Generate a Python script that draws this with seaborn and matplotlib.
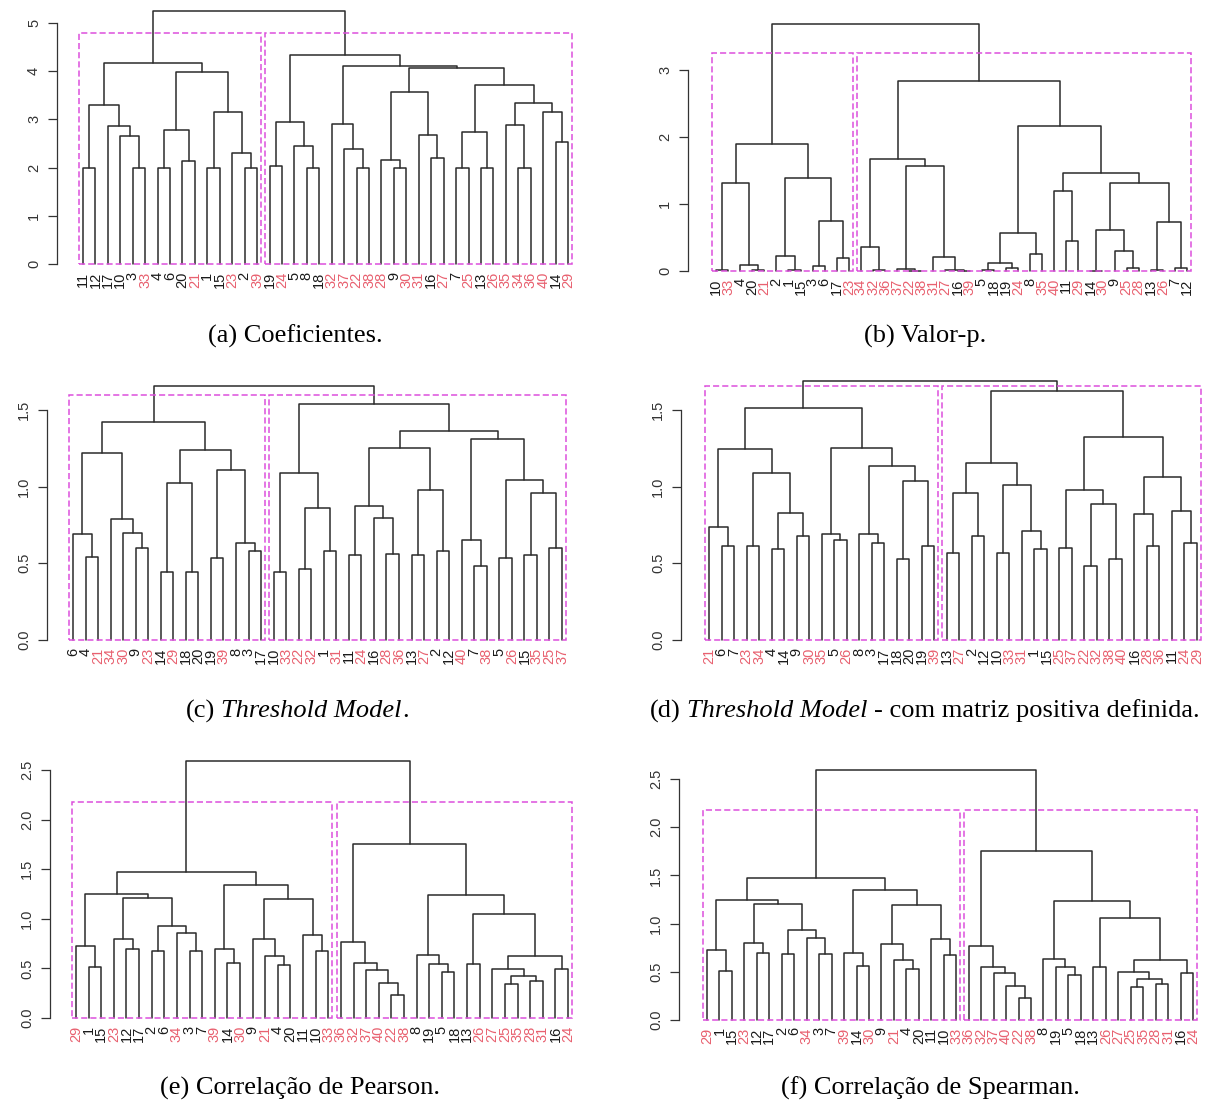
import matplotlib
matplotlib.use("Agg")

import matplotlib.pyplot as plt
from matplotlib.patches import Rectangle
import pandas as pd
import seaborn as sns

# ---- data: leaf order (left to right) and merge trees [height, left, right] ----
labels_a = [11, 12, 17, 10, 3, 33, 4, 6, 20, 21, 1, 15, 23, 2, 39,
            19, 24, 5, 8, 18, 32, 37, 22, 38, 28, 9, 30, 31, 16, 27,
            7, 25, 13, 26, 35, 34, 36, 40, 14, 29]
tree_a = [5.25,
          [4.17,
           [3.29, [2.0, 11, 12], [2.87, 17, [2.66, 10, [2.0, 3, 33]]]],
           [3.99, [2.78, [2.0, 4, 6], [2.14, 20, 21]],
            [3.16, [2.0, 1, 15], [2.31, 23, [2.0, 2, 39]]]]],
          [4.34,
           [2.95, [2.04, 19, 24], [2.45, 5, [2.0, 8, 18]]],
           [4.10,
            [2.90, 32, [2.39, 37, [2.0, 22, 38]]],
            [4.07,
             [3.56, [2.16, 28, [2.0, 9, 30]], [2.68, 31, [2.19, 16, 27]]],
             [3.71, [2.74, [2.0, 7, 25], [2.0, 13, 26]],
              [3.35, [2.89, 35, [2.0, 34, 36]], [3.16, 40, [2.54, 14, 29]]]]]]]]

labels_b = [10, 33, 4, 20, 21, 2, 1, 15, 3, 6, 17, 23,
            34, 32, 36, 37, 22, 38, 31, 27, 16, 39, 5, 18, 19, 24, 8, 35,
            40, 11, 29, 14, 30, 9, 25, 28, 13, 26, 7, 12]
tree_b = [3.68,
          [1.89,
           [1.31, [0.02, 10, 33], [0.09, 4, [0.02, 20, 21]]],
           [1.39, [0.22, 2, [0.01, 1, 15]], [0.75, [0.07, 3, 6], [0.20, 17, 23]]]],
          [2.83,
           [1.67, [0.36, 34, [0.01, 32, 36]],
            [1.56, [0.03, 37, [0.005, 22, 38]], [0.21, 31, [0.02, 27, [0.005, 16, 39]]]]],
           [2.17,
            [0.57, [0.12, [0.01, 5, 18], [0.04, 19, 24]], [0.25, 8, 35]],
            [1.47, [1.19, 40, [0.45, 11, 29]],
             [1.32, [0.61, [0.005, 14, 30], [0.30, 9, [0.05, 25, 28]]],
              [0.73, [0.01, 13, 26], [0.05, 7, 12]]]]]]]

labels_c = [6, 4, 21, 34, 30, 9, 23, 14, 29, 18, 20, 19, 39, 8, 3, 17,
            10, 33, 22, 32, 1, 31, 11, 24, 16, 28, 36, 13, 27, 2, 12,
            40, 7, 38, 5, 26, 15, 35, 25, 37]
tree_c = [1.657,
          [1.42,
           [1.22, [0.69, 6, [0.54, 4, 21]], [0.79, 34, [0.70, 30, [0.60, 9, 23]]]],
           [1.24, [1.02, [0.44, 14, 29], [0.44, 18, 20]],
            [1.11, [0.535, 19, 39], [0.63, 8, [0.58, 3, 17]]]]],
          [1.54,
           [1.085, [0.44, 10, 33], [0.86, [0.465, 22, 32], [0.58, 1, 31]]],
           [1.363,
            [1.254, [0.87, [0.556, 11, 24], [0.796, 16, [0.563, 28, 36]]],
             [0.974, [0.556, 13, 27], [0.58, 2, 12]]],
            [1.31, [0.65, 40, [0.485, 7, 38]],
             [1.04, [0.535, 5, 26], [0.96, [0.556, 15, 35], [0.60, 25, 37]]]]]]]

labels_d = [21, 6, 7, 23, 34, 4, 14, 9, 30, 35, 5, 26, 8, 3, 17, 18, 20, 19, 39,
            13, 27, 2, 12, 10, 33, 31, 1, 15, 25, 37, 22, 32, 38, 40,
            16, 28, 36, 11, 24, 29]
tree_d = [1.687,
          [1.51,
           [1.243, [0.735, 21, [0.61, 6, 7]],
            [1.09, [0.61, 23, 34], [0.83, [0.595, 4, 14], [0.68, 9, 30]]]],
           [1.254, [0.69, 35, [0.65, 5, 26]],
            [1.133, [0.69, 8, [0.635, 3, 17]], [1.035, [0.527, 18, 20], [0.61, 19, 39]]]]],
          [1.62,
           [1.155, [0.96, [0.57, 13, 27], [0.68, 2, 12]],
            [1.01, [0.565, 10, 33], [0.713, 31, [0.595, 1, 15]]]],
           [1.32,
            [0.98, [0.60, 25, 37], [0.886, [0.48, 22, 32], [0.527, 38, 40]]],
            [1.06, [0.82, 16, [0.61, 28, 36]], [0.838, 11, [0.635, 24, 29]]]]]]

# Pearson and Spearman give the same tree in the source figure
labels_e = [29, 1, 15, 23, 12, 17, 2, 6, 34, 3, 7, 39, 14, 30, 9, 21, 4, 20, 11, 10, 33,
            36, 32, 37, 40, 22, 38, 8, 19, 5, 18, 13, 26, 27, 25, 35, 28, 31, 16, 24]
tree_e = [2.592,
          [1.474,
           [1.248, [0.73, 29, [0.51, 1, 15]],
            [1.207, [0.80, 23, [0.70, 12, 17]],
             [0.93, [0.68, 2, 6], [0.855, 34, [0.68, 3, 7]]]]],
           [1.344, [0.70, 39, [0.557, 14, 30]],
            [1.197, [0.793, 9, [0.626, 21, [0.53, 4, 20]]], [0.838, 11, [0.674, 10, 33]]]]],
          [1.758,
           [0.763, 36, [0.55, 32, [0.486, 37, [0.349, 40, [0.233, 22, 38]]]]],
           [1.235, [0.636, 8, [0.547, 19, [0.462, 5, 18]]],
            [1.053, [0.547, 13, 26],
             [0.622, [0.496, 27, [0.424, [0.345, 25, 35], [0.369, 28, 31]]], [0.492, 16, 24]]]]]]

yticks_a = [0, 1, 2, 3, 4, 5]
yticks_b = [0, 1, 2, 3]
yticks_cd = [0.0, 0.5, 1.0, 1.5]
yticks_ef = [0.0, 0.5, 1.0, 1.5, 2.0, 2.5]

# ---- style ----
W, H = 1210, 1104
sns.set_style("white")
plt.rcParams["font.family"] = ["Liberation Sans", "DejaVu Sans"]
LINE = "#2b2b2b"
RECT = "#dc4fdc"
RED = "#e8606f"

fig = plt.figure(figsize=(W / 100, H / 100), dpi=100)


def walk(node, pos, rows, seg):
    if not isinstance(node, list):
        return pos[node], 0.0
    h, left, right = node
    xl, hl = walk(left, pos, rows, seg)
    xr, hr = walk(right, pos, rows, seg)
    k = len(seg)
    seg.append(k)
    for i, (x, y) in enumerate([(xl, hl), (xl, h), (xr, h), (xr, hr)]):
        rows.append({"seg": k, "i": i, "x": x, "y": y})
    return (xl + xr) / 2, h


def n_leaves(node):
    if not isinstance(node, list):
        return 1
    return n_leaves(node[1]) + n_leaves(node[2])


def dendro(tree, labels, yticks, fmt, box):
    # box: y-axis x, first leaf x, last leaf x, zero y, pixels per unit
    axis_x, x_first, x_last, y0, unit = box
    sp = (x_last - x_first) / 39
    top = tree[0]
    xlo = 1 + (axis_x - x_first) / sp
    xhi = 41.0
    ylo, yhi = -0.01 * top, top * 1.02
    left_px = axis_x
    right_px = x_first + (xhi - 1) * sp
    bot_px = y0 - ylo * unit
    top_px = y0 - yhi * unit
    ax = fig.add_axes([left_px / W, 1 - bot_px / H,
                       (right_px - left_px) / W, (bot_px - top_px) / H])

    pos = {lab: i + 1 for i, lab in enumerate(labels)}
    rows, seg = [], []
    walk(tree, pos, rows, seg)
    df = pd.DataFrame(rows)
    sns.lineplot(data=df, x="x", y="y", units="seg", estimator=None, sort=False,
                 color=LINE, lw=1.1, ax=ax, legend=False)

    # rect.hclust style boxes for k = 2
    n1 = n_leaves(tree[1])
    rtop = (top + max(tree[1][0], tree[2][0])) / 2
    for a, b in [(0.66, n1 + 0.33), (n1 + 0.66, 40.33)]:
        ax.add_patch(Rectangle((a, 0), b - a, rtop, fill=False, ec=RECT,
                               lw=1.1, ls=(0, (4, 2)), clip_on=False, zorder=3))

    ax.set_xlim(xlo, xhi)
    ax.set_ylim(ylo, yhi)
    ax.set_xlabel("")
    ax.set_ylabel("")
    ax.set_xticks(range(1, 41))
    ax.set_xticklabels([str(l) for l in labels], rotation=90, fontsize=10.5)
    for t, l in zip(ax.get_xticklabels(), labels):
        t.set_color(RED if l > 20 else "#1a1a1a")
    ax.tick_params(axis="x", length=0, pad=3.5)
    ax.set_yticks(yticks)
    ax.set_yticklabels([fmt.format(v) for v in yticks], fontsize=10.5, color="#333333")
    for t in ax.get_yticklabels():
        t.set_rotation(90)
        t.set_va("center")
    ax.tick_params(axis="y", length=6.5, width=0.9, color="#333333", pad=5, left=True)
    for s in ["top", "right", "bottom"]:
        ax.spines[s].set_visible(False)
    ax.spines["left"].set_bounds(yticks[0], yticks[-1])
    ax.spines["left"].set_color("#333333")
    ax.spines["left"].set_linewidth(0.9)
    ax.patch.set_alpha(0)
    return ax


dendro(tree_a, labels_a, yticks_a, "{:d}", (57, 83, 568, 264, 48.2))
dendro(tree_b, labels_b, yticks_b, "{:d}", (688, 716, 1187, 271, 67.0))
dendro(tree_c, labels_c, yticks_cd, "{:.1f}", (47, 73, 562, 640, 153.5))
dendro(tree_d, labels_d, yticks_cd, "{:.1f}", (681, 709, 1197, 640, 153.5))
dendro(tree_e, labels_e, yticks_ef, "{:.1f}", (50, 76, 568, 1018, 99.2))
dendro(tree_e, labels_e, yticks_ef, "{:.1f}", (679, 707, 1193, 1020, 96.4))

# ---- captions (serif, partly italic) ----
renderer = fig.canvas.get_renderer()
CAP = dict(fontsize=19, family="Liberation Serif", color="black")


def width_of(s, style):
    t = fig.text(0, 0, s, style=style, **CAP)
    w = t.get_window_extent(renderer=renderer).width
    t.remove()
    return w


space = width_of("x x", "normal") - width_of("xx", "normal")


def caption(cx, cy, parts):
    # parts: (text, style, space_before)
    ws = [width_of(s, st) for s, st, _ in parts]
    total = sum(ws) + sum(space for _, _, sp in parts if sp)
    x = cx - total / 2
    for (s, st, sp), w in zip(parts, ws):
        if sp:
            x += space
        fig.text(x / W, 1 - cy / H, s, style=st, ha="left", va="center", **CAP)
        x += w


caption(295, 336, [("(a) Coeficientes.", "normal", False)])
caption(925, 336, [("(b) Valor-p.", "normal", False)])
caption(297, 711, [("(c)", "normal", False), ("Threshold Model", "italic", True),
                   (".", "normal", False)])
caption(925, 711, [("(d)", "normal", False), ("Threshold Model", "italic", True),
                   ("- com matriz positiva definida.", "normal", True)])
caption(300, 1088, [("(e) Correlação de Pearson.", "normal", False)])
caption(930, 1088, [("(f) Correlação de Spearman.", "normal", False)])

fig.savefig("out.png", dpi=100)
